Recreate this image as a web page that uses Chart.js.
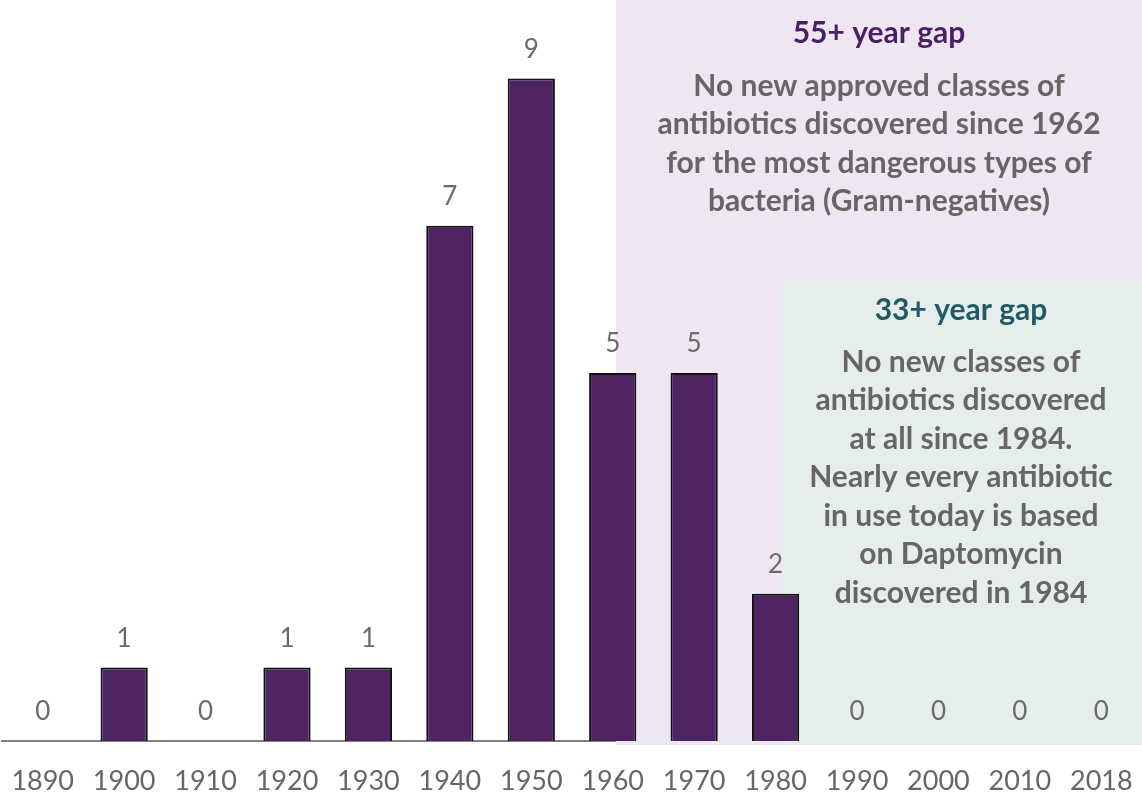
<!DOCTYPE html>
<html>
<head>
<meta charset="utf-8">
<script src="https://cdn.jsdelivr.net/npm/chart.js@4/dist/chart.umd.min.js"></script>
<style>
  html, body { margin: 0; padding: 0; background: #fff; }
</style>
</head>
<body>
<canvas id="gapChart" width="1142" height="799"></canvas>
<script>
let decades = ['1890', '1900', '1910', '1920', '1930', '1940', '1950', '1960', '1970', '1980', '1990', '2000', '2010', '2018'];
let newClasses = [0, 1, 0, 1, 1, 7, 9, 5, 5, 2, 0, 0, 0, 0];

let purpleTitle = '55+ year gap';
let purpleLines = ['No new approved classes of', 'antibiotics discovered since 1962', 'for the most dangerous types of', 'bacteria (Gram-negatives)'];
let greenTitle = '33+ year gap';
let greenLines = ['No new classes of', 'antibiotics discovered', 'at all since 1984.', 'Nearly every antibiotic', 'in use today is based', 'on Daptomycin', 'discovered in 1984'];

const FONT = 'Lato, "Open Sans", sans-serif';

// shaded boxes behind the bars, text on top
const gapBoxes = {
    id: 'gapBoxes',
    beforeDatasetsDraw(chart) {
        let ctx = chart.ctx;
        ctx.save();
        ctx.fillStyle = '#EEE6F0';
        ctx.fillRect(616, 0, 526, 745);
        ctx.fillStyle = '#E6EEEB';
        ctx.fillRect(782, 278, 360, 467);
        ctx.restore();
    },
    afterDraw(chart) {
        let ctx = chart.ctx;
        ctx.save();
        ctx.textAlign = 'center';
        ctx.textBaseline = 'middle';
        ctx.font = 'bold 30px ' + FONT;
        ctx.fillStyle = '#4B1F66';
        ctx.fillText(purpleTitle, 879, 33);
        ctx.fillStyle = '#666666';
        purpleLines.forEach((t, i) => ctx.fillText(t, 879, 86 + i * 38.5));
        ctx.fillStyle = '#1F5A66';
        ctx.fillText(greenTitle, 961, 310);
        ctx.fillStyle = '#666666';
        greenLines.forEach((t, i) => ctx.fillText(t, 961, 362 + i * 38.5));
        ctx.restore();
    }
};

// value labels above each bar
const valueLabels = {
    id: 'valueLabels',
    afterDatasetsDraw(chart) {
        let ctx = chart.ctx;
        let meta = chart.getDatasetMeta(0);
        ctx.save();
        ctx.textAlign = 'center';
        ctx.textBaseline = 'middle';
        ctx.font = '26px ' + FONT;
        ctx.fillStyle = '#6B6B6B';
        meta.data.forEach((bar, i) => {
            ctx.fillText(String(newClasses[i]), bar.x, bar.y - 29);
        });
        ctx.restore();
    }
};

let g_Chart = document.getElementById('gapChart').getContext('2d');

let gap_Chart = new Chart(g_Chart, {
    type: 'bar',
    data: {
        labels: decades,
        datasets: [{
            data: newClasses,
            backgroundColor: '#4F2462',
            borderColor: '#111111',
            borderWidth: 2,
            barPercentage: 0.58,
            categoryPercentage: 1
        }]
    },
    options: {
        responsive: false,
        animation: false,
        layout: { padding: { top: 5, bottom: 0, left: 2, right: -4 } },
        plugins: {
            legend: { display: false },
            tooltip: { enabled: false }
        },
        scales: {
            x: {
                grid: { display: false },
                border: { display: true, color: '#808080', width: 2 },
                ticks: {
                    color: '#666666',
                    padding: 16,
                    font: { family: FONT, size: 27 },
                    maxRotation: 0,
                    autoSkip: false
                },
                afterFit(scale) {
                    scale.height = 58;
                    scale.paddingLeft = 0;
                    scale.paddingRight = 0;
                }
            },
            y: {
                display: false,
                min: 0,
                max: 10
            }
        }
    },
    plugins: [gapBoxes, valueLabels]
});
</script>
</body>
</html>
